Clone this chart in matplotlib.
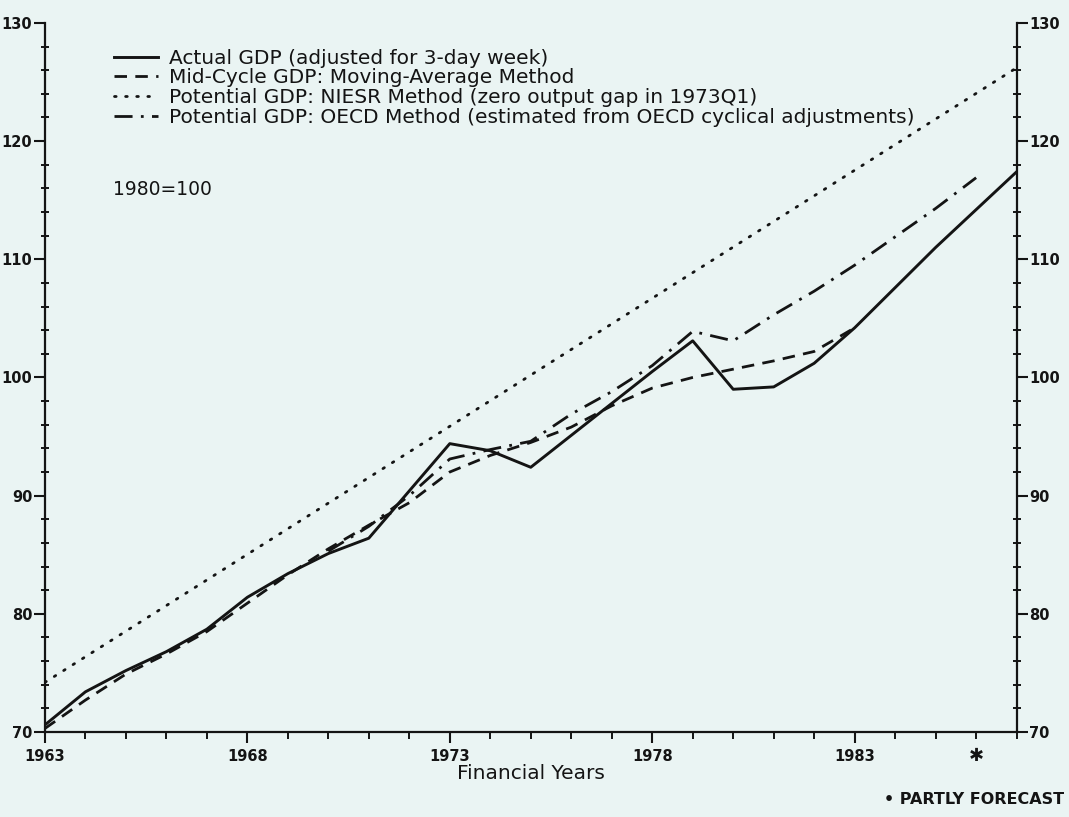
import matplotlib.pyplot as plt
from matplotlib.ticker import MultipleLocator

# financial years and GDP indices (1980=100)
years = list(range(1963, 1988))
actual_gdp = [70.6, 73.4, 75.2, 76.8, 78.7, 81.4, 83.4, 85.1, 86.4, 90.4,
              94.4, 93.8, 92.4, 95.1, 97.8, 100.5, 103.1, 99.0, 99.2, 101.2,
              104.2, 107.6, 111.0, 114.2, 117.4]

mid_years = list(range(1963, 1984))
mid_cycle_gdp = [70.3, 72.7, 74.9, 76.6, 78.5, 80.9, 83.3, 85.5, 87.5, 89.4,
                 92.0, 93.4, 94.5, 95.8, 97.6, 99.1, 100.0, 100.7, 101.4, 102.2,
                 104.2]

niesr_years = [1963, 1987]
niesr_gdp = [74.2, 126.2]

oecd_years = list(range(1970, 1987))
oecd_gdp = [85.3, 87.4, 90.0, 93.1, 93.9, 94.6, 96.9, 98.8, 101.0, 103.9,
            103.1, 105.3, 107.3, 109.5, 111.9, 114.3, 116.9]

labelled_years = [1963, 1968, 1973, 1978, 1983]

legend_labels = [
    "Actual GDP (adjusted for 3-day week)",
    "Mid-Cycle GDP: Moving-Average Method",
    "Potential GDP: NIESR Method (zero output gap in 1973Q1)",
    "Potential GDP: OECD Method (estimated from OECD cyclical adjustments)",
]

bg = "#eaf4f3"
ink = "#141414"
plt.rcParams["font.family"] = ["DejaVu Sans"]

fig = plt.figure(figsize=(10.69, 8.17), dpi=100, facecolor=bg)
ax = fig.add_axes([0.042, 0.104, 0.909, 0.868], facecolor=bg)

ax.plot(years, actual_gdp, color=ink, lw=2.1, ls="-", label=legend_labels[0])
ax.plot(mid_years, mid_cycle_gdp, color=ink, lw=2.0, ls=(0, (4.5, 3)),
        label=legend_labels[1])
ax.plot(niesr_years, niesr_gdp, color=ink, lw=2.0, ls=(0, (0.6, 3.4)),
        dash_capstyle="round", label=legend_labels[2])
ax.plot(oecd_years, oecd_gdp, color=ink, lw=2.0, ls=(0, (6.5, 3, 1, 3)),
        label=legend_labels[3])

ax.set_xlim(1963, 1987)
ax.set_ylim(70, 130)

ax.spines["top"].set_visible(False)
for side in ["left", "right", "bottom"]:
    ax.spines[side].set_linewidth(1.6)
    ax.spines[side].set_color(ink)

ax.set_xticks(labelled_years)
ax.xaxis.set_minor_locator(MultipleLocator(1))
ax.yaxis.set_major_locator(MultipleLocator(10))
ax.yaxis.set_minor_locator(MultipleLocator(2))
ax.tick_params(axis="both", which="major", direction="out", length=8,
               width=1.5, color=ink, labelsize=10.5, labelcolor=ink)
ax.tick_params(axis="y", which="minor", direction="inout", length=6,
               width=1.4, color=ink)
ax.tick_params(axis="x", which="minor", direction="out", length=5,
               width=1.4, color=ink)
ax.tick_params(axis="y", which="both", left=True, right=True,
               labelleft=True, labelright=True, pad=1)
ax.tick_params(axis="x", which="major", pad=4)
for lbl in ax.get_xticklabels() + ax.get_yticklabels():
    lbl.set_fontweight("bold")

ax.set_xlabel("Financial Years", fontsize=14.5, color=ink, labelpad=0)

leg = ax.legend(loc="upper left", bbox_to_anchor=(0.063, 0.975), frameon=False,
                fontsize=14.5, handlelength=2.2, handletextpad=0.5,
                labelspacing=0.04, borderaxespad=0)
for t in leg.get_texts():
    t.set_color(ink)

ax.text(0.07, 0.765, "1980=100", transform=ax.transAxes, fontsize=13.5,
        color=ink, va="center", ha="left")

# forecast marker under 1986
ax.annotate("\u2731", xy=(1986, 70), xytext=(0, -17), textcoords="offset points",
            ha="center", va="center", fontsize=13, color=ink, annotation_clip=False)
fig.text(0.995, 0.012, "\u2022 PARTLY FORECAST", ha="right", va="bottom",
         fontsize=11.5, fontweight="bold", color=ink)

fig.savefig("out.png", dpi=100, facecolor=bg)
